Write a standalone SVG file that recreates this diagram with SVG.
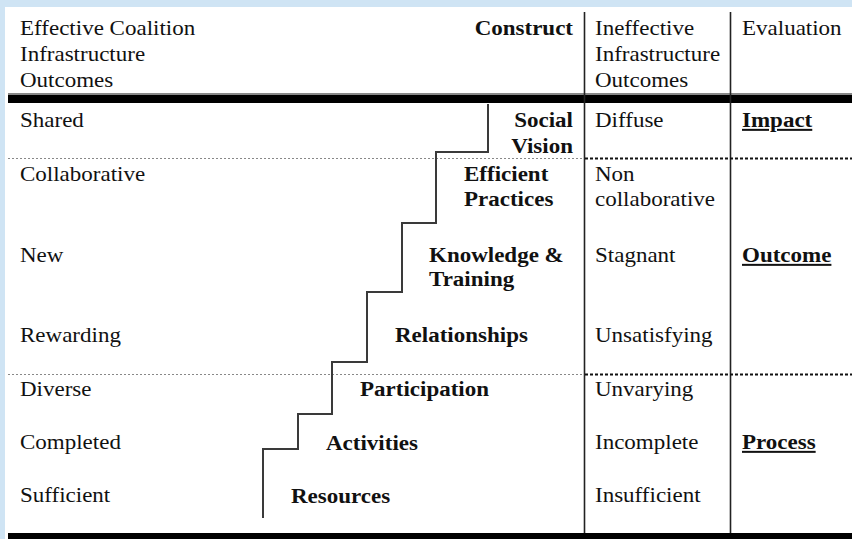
<svg xmlns="http://www.w3.org/2000/svg" width="852" height="539" viewBox="0 0 852 539">
<style>
  text { font-family: "Liberation Serif", "Times New Roman", serif; font-size: 20px; fill: #111; }
  .b { font-weight: bold; }
  .e { text-anchor: end; }
  .u { text-decoration: underline; }
  .vl { stroke: #222; stroke-width: 1.6; }
  .dl { stroke: #888; stroke-width: 1.2; stroke-dasharray: 2 2; }
  .dr { stroke: #111; stroke-width: 2; stroke-dasharray: 3 2; }
  .stair { fill: none; stroke: #3a3a3a; stroke-width: 2; }
</style>
<rect x="0" y="0" width="852" height="539" fill="#cfe4f4"/>
<rect x="5" y="7" width="847" height="532" fill="#ffffff"/>

<g id="rules">
  <rect x="8" y="93" width="844" height="2" fill="#888"/>
  <rect x="8" y="95" width="844" height="8" fill="#000"/>
  <rect x="8" y="533" width="844" height="6" fill="#000"/>
  <line class="vl" x1="584.5" y1="12" x2="584.5" y2="533"/>
  <line class="vl" x1="730.5" y1="12" x2="730.5" y2="533"/>
  <line class="dl" x1="8" y1="158.5" x2="584" y2="158.5"/>
  <line class="dr" x1="585" y1="158.5" x2="852" y2="158.5"/>
  <line class="dl" x1="8" y1="374.5" x2="584" y2="374.5"/>
  <line class="dr" x1="585" y1="374.5" x2="852" y2="374.5"/>
</g>

<g id="connectors">
  <path class="stair" d="M488,104 V152 H436 V223 H402 V292 H367 V362 H332 V414 H298 V449 H263 V518"/>
</g>

<g id="header">
  <text transform="translate(20 35) scale(1.15 1)">Effective Coalition</text>
  <text transform="translate(20 61) scale(1.15 1)">Infrastructure</text>
  <text transform="translate(20 87) scale(1.15 1)">Outcomes</text>
  <text class="b e" transform="translate(573 35) scale(1.15 1)">Construct</text>
  <text transform="translate(595 35) scale(1.15 1)">Ineffective</text>
  <text transform="translate(595 61) scale(1.15 1)">Infrastructure</text>
  <text transform="translate(595 87) scale(1.15 1)">Outcomes</text>
  <text transform="translate(742 35) scale(1.15 1)">Evaluation</text>
</g>

<g id="effective-outcomes">
  <text transform="translate(20 127) scale(1.15 1)">Shared</text>
  <text transform="translate(20 181) scale(1.15 1)">Collaborative</text>
  <text transform="translate(20 262) scale(1.15 1)">New</text>
  <text transform="translate(20 342) scale(1.15 1)">Rewarding</text>
  <text transform="translate(20 396) scale(1.15 1)">Diverse</text>
  <text transform="translate(20 449) scale(1.15 1)">Completed</text>
  <text transform="translate(20 502) scale(1.15 1)">Sufficient</text>
</g>

<g id="constructs">
  <g id="social-vision">
    <text class="b e" transform="translate(573 127) scale(1.15 1)">Social</text>
    <text class="b e" transform="translate(573 153) scale(1.15 1)">Vision</text>
  </g>
  <g id="efficient-practices">
    <text class="b" transform="translate(464 181) scale(1.15 1)">Efficient</text>
    <text class="b" transform="translate(464 206) scale(1.15 1)">Practices</text>
  </g>
  <g id="knowledge-training">
    <text class="b" transform="translate(429 262) scale(1.15 1)">Knowledge &amp;</text>
    <text class="b" transform="translate(429 286) scale(1.15 1)">Training</text>
  </g>
  <g id="relationships">
    <text class="b" transform="translate(395 342) scale(1.15 1)">Relationships</text>
  </g>
  <g id="participation">
    <text class="b" transform="translate(360 396) scale(1.15 1)">Participation</text>
  </g>
  <g id="activities">
    <text class="b" transform="translate(326 450) scale(1.15 1)">Activities</text>
  </g>
  <g id="resources">
    <text class="b" transform="translate(291 503) scale(1.15 1)">Resources</text>
  </g>
</g>

<g id="ineffective-outcomes">
  <text transform="translate(595 127) scale(1.15 1)">Diffuse</text>
  <text transform="translate(595 181) scale(1.15 1)">Non</text>
  <text transform="translate(595 206) scale(1.15 1)">collaborative</text>
  <text transform="translate(595 262) scale(1.15 1)">Stagnant</text>
  <text transform="translate(595 342) scale(1.15 1)">Unsatisfying</text>
  <text transform="translate(595 396) scale(1.15 1)">Unvarying</text>
  <text transform="translate(595 449) scale(1.15 1)">Incomplete</text>
  <text transform="translate(595 502) scale(1.15 1)">Insufficient</text>
</g>

<g id="evaluation">
  <text class="b u" transform="translate(742 127) scale(1.15 1)">Impact</text>
  <text class="b u" transform="translate(742 262) scale(1.15 1)">Outcome</text>
  <text class="b u" transform="translate(742 449) scale(1.15 1)">Process</text>
</g>
</svg>
